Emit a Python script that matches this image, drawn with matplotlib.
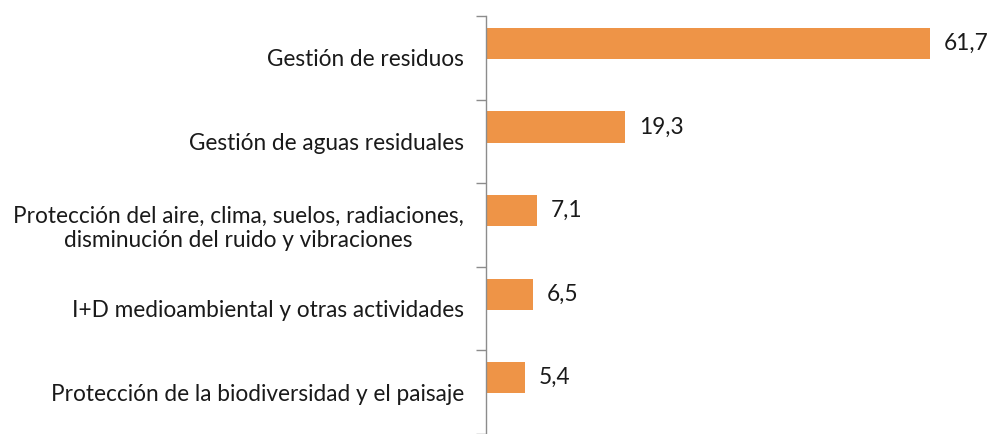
import matplotlib.pyplot as plt
import numpy as np

# Categories and their values (%)
categorias = [
    'Gestión de residuos',
    'Gestión de aguas residuales',
    'Protección del aire, clima, suelos, radiaciones,\ndisminución del ruido y vibraciones',
    'I+D medioambiental y otras actividades',
    'Protección de la biodiversidad y el paisaje',
]
valores = [61.7, 19.3, 7.1, 6.5, 5.4]
etiquetas = ['61,7', '19,3', '7,1', '6,5', '5,4']

plt.rcParams['font.family'] = ['Lato', 'DejaVu Sans']

fig = plt.figure(figsize=(9.9, 4.34), dpi=100)
ax = fig.add_axes([486 / 990, 0, 504 / 990, 418 / 434])

pos = np.arange(len(categorias))
color = '#EE9447'
axis_col = '#8C8C8C'
txt_col = '#1a1a1a'
fs = 16.3

ax.barh(pos - 0.172, valores, height=0.375, color=color)

for p, v, t in zip(pos, valores, etiquetas):
    ax.annotate(t, (v, p - 0.172), xytext=(14, 0), textcoords='offset pixels',
                va='center', ha='left', fontsize=fs, color=txt_col)

ax.set_xlim(0, 70)
ax.set_ylim(4.4, -0.5)

# Boundary ticks (major) and label positions (minor)
ax.set_yticks(np.arange(-0.5, len(categorias), 1.0))
ax.set_yticklabels([])
ax.set_yticks(pos, minor=True)
ax.set_yticklabels(categorias, minor=True, fontsize=fs, color=txt_col,
                   multialignment='center', linespacing=1.2)
ax.tick_params(axis='y', which='major', length=7, color=axis_col, width=1)
ax.tick_params(axis='y', which='minor', length=0, pad=16)

ax.set_xticks([])
for s in ['top', 'right', 'bottom']:
    ax.spines[s].set_visible(False)
ax.spines['left'].set_color(axis_col)
ax.spines['left'].set_linewidth(1)

fig.savefig('out.png', dpi=100)
